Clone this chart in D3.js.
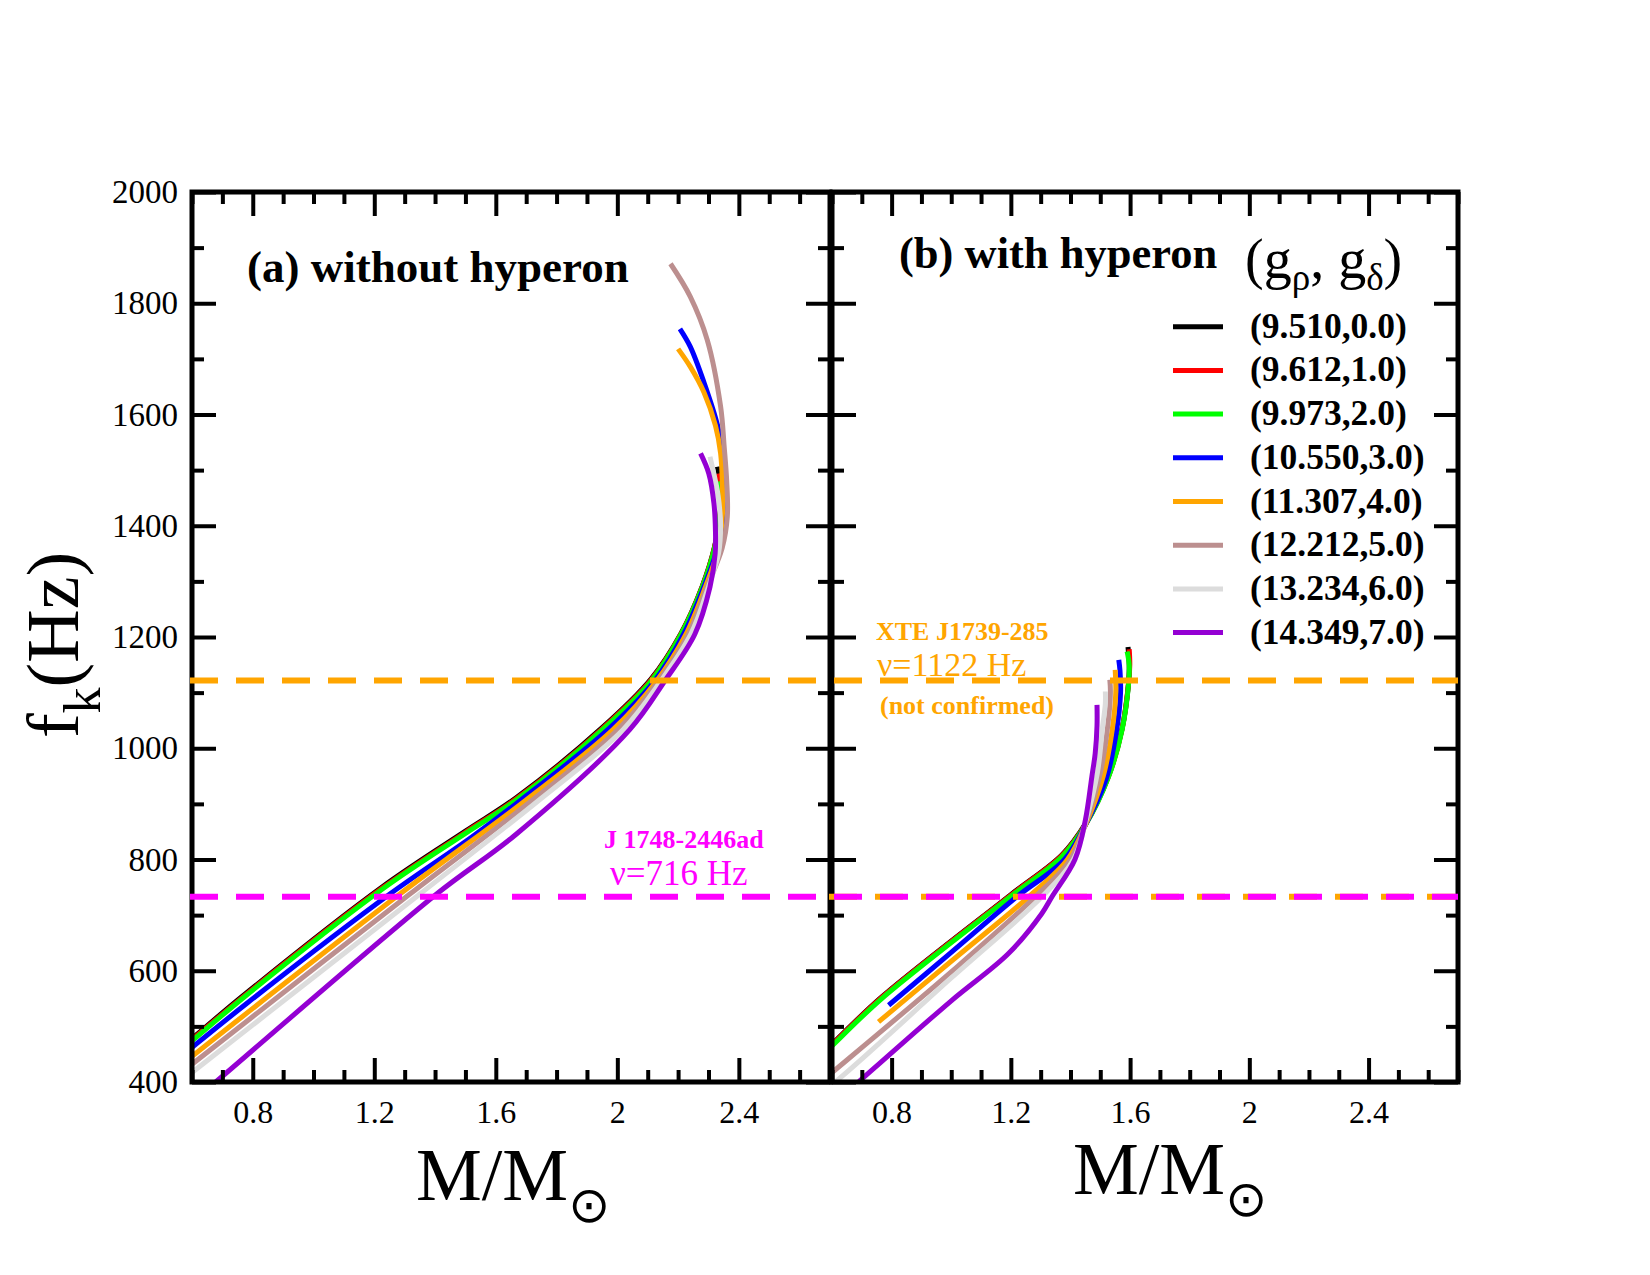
<!DOCTYPE html>
<html>
<head>
<meta charset="utf-8">
<title>Kepler frequency vs mass</title>
<script src="https://cdn.jsdelivr.net/npm/d3@7"></script>
<style>
  body { margin: 0; background: #fff; }
  svg text { font-family: "Liberation Serif", "Times New Roman", serif; }
</style>
</head>
<body>
<svg id="chart" width="1650" height="1275"></svg>
<script>
// ---- values ----
var setLabels = ['(9.510,0.0)', '(9.612,1.0)', '(9.973,2.0)', '(10.550,3.0)',
                 '(11.307,4.0)', '(12.212,5.0)', '(13.234,6.0)', '(14.349,7.0)'];
var setColors = ['#000000', '#ff0000', '#00ff00', '#0000ff', '#ffa500', '#bc8f8f', '#dcdcdc', '#9400d3'];

var massTicks = [0.8, 1.2, 1.6, 2, 2.4];
var freqTicks = [400, 600, 800, 1000, 1200, 1400, 1600, 1800, 2000];

// (a) without hyperon : M/Msun and f_k (Hz) for each set
var massA = [
  [0.58, 0.60, 0.77, 1.227, 1.50, 1.667, 1.95, 2.11, 2.21, 2.28, 2.32, 2.338, 2.342, 2.338, 2.329],
  [0.58, 0.60, 0.77, 1.227, 1.50, 1.667, 1.95, 2.11, 2.21, 2.28, 2.32, 2.338, 2.342, 2.338, 2.333],
  [0.58, 0.60, 0.77, 1.227, 1.50, 1.667, 1.95, 2.11, 2.21, 2.28, 2.32, 2.338, 2.342, 2.336],
  [0.58, 0.60, 0.782, 1.249, 1.52, 1.683, 1.968, 2.121, 2.218, 2.285, 2.33, 2.35, 2.352, 2.345, 2.33, 2.285, 2.24, 2.206],
  [0.58, 0.60, 1.282, 1.70, 1.985, 2.128, 2.226, 2.29, 2.333, 2.346, 2.346, 2.34, 2.323, 2.285, 2.24, 2.20],
  [0.58, 0.60, 1.315, 1.721, 2.001, 2.135, 2.234, 2.295, 2.345, 2.362, 2.36, 2.352, 2.34, 2.296, 2.24, 2.175],
  [0.58, 0.60, 1.348, 1.743, 2.018, 2.142, 2.242, 2.30, 2.333, 2.34, 2.335, 2.329, 2.305],
  [0.66, 0.678, 1.403, 1.666, 2.04, 2.155, 2.255, 2.305, 2.322, 2.323, 2.318, 2.301, 2.274]
];
var freqA = [
  [469, 478, 556, 751, 851, 911, 1037, 1124, 1207, 1292, 1362, 1422, 1452, 1480, 1506],
  [467, 476, 554, 749, 849, 909, 1035, 1122, 1206, 1291, 1361, 1421, 1451, 1480, 1494],
  [465, 474, 552, 747, 847, 907, 1033, 1120, 1205, 1290, 1360, 1420, 1450, 1480],
  [453, 462, 542, 737, 840, 907, 1033, 1120, 1205, 1290, 1360, 1420, 1470, 1530, 1580, 1658, 1722, 1754],
  [437, 446, 737, 907, 1033, 1120, 1205, 1290, 1360, 1420, 1470, 1530, 1580, 1640, 1686, 1718],
  [423, 432, 737, 907, 1033, 1120, 1205, 1290, 1360, 1416, 1480, 1540, 1614, 1734, 1812, 1871],
  [408, 417, 737, 907, 1033, 1120, 1205, 1290, 1350, 1400, 1440, 1464, 1524],
  [392, 400, 737, 845, 1033, 1120, 1205, 1290, 1350, 1390, 1440, 1494, 1530]
];

// (b) with hyperon
var massB = [
  [0.58, 0.60, 0.767, 1.198, 1.371, 1.45, 1.528, 1.573, 1.595, 1.597, 1.593],
  [0.58, 0.60, 0.767, 1.198, 1.371, 1.45, 1.528, 1.573, 1.595, 1.599, 1.597],
  [0.58, 0.60, 0.767, 1.198, 1.371, 1.45, 1.528, 1.573, 1.595, 1.597, 1.590],
  [0.79, 1.0, 1.22, 1.38, 1.45, 1.52, 1.555, 1.568, 1.566, 1.562],
  [0.756, 1.0, 1.26, 1.39, 1.45, 1.51, 1.54, 1.552, 1.55],
  [0.58, 0.60, 1.0, 1.282, 1.40, 1.45, 1.50, 1.525, 1.534, 1.532],
  [0.58, 0.61, 1.0, 1.304, 1.41, 1.45, 1.49, 1.508, 1.517, 1.517],
  [0.67, 0.689, 1.0, 1.192, 1.304, 1.338, 1.415, 1.45, 1.472, 1.483, 1.489, 1.489]
];
var freqB = [
  [458, 468, 553, 736, 808, 864, 951, 1035, 1118, 1150, 1182],
  [457, 467, 552, 735, 807, 863, 950, 1034, 1118, 1150, 1178],
  [455, 465, 550, 733, 805, 862, 949, 1033, 1117, 1150, 1174],
  [538, 633, 733, 800, 862, 945, 1033, 1100, 1140, 1159],
  [508, 617, 733, 800, 862, 950, 1033, 1100, 1141],
  [408, 417, 598, 733, 800, 864, 955, 1040, 1100, 1123],
  [390, 400, 587, 733, 800, 866, 955, 1040, 1080, 1102],
  [391, 400, 546, 631, 703, 733, 800, 871, 950, 991, 1040, 1078]
];

// observed pulsar frequencies (dashed lines, as drawn)
var pulsarFreq = [1122, 733];
var pulsarColor = ['#ffa500', '#ff00ff'];

var svg = d3.select('#chart');

var massDomain = [0.6, 2.7];
var y = d3.scaleLinear().domain([400, 2000]).range([1082, 192]);

var panels = [
  { x0: 192, x1: 830, mass: massA, freq: freqA, yLabels: true },
  { x0: 832, x1: 1458, mass: massB, freq: freqB, yLabels: false }
];

var minorMass = d3.range(6, 28).map(function (d) { return d / 10; })
  .filter(function (d) { return massTicks.indexOf(d) < 0; });
var minorFreq = d3.range(500, 2000, 200);

function styleAxis(g, w) {
  g.select('.domain').remove();
  g.selectAll('.tick line').attr('stroke', '#000').attr('stroke-width', w);
}

panels.forEach(function (p, i) {
  var x = d3.scaleLinear().domain(massDomain).range([p.x0, p.x1]);
  var g = svg.append('g');

  // curves, clipped to the frame
  svg.append('clipPath').attr('id', 'clip' + i)
    .append('rect').attr('x', p.x0).attr('y', 192)
    .attr('width', p.x1 - p.x0).attr('height', 890);

  var line = d3.line()
    .x(function (d) { return x(d[0]); })
    .y(function (d) { return y(d[1]); })
    .curve(d3.curveCatmullRom.alpha(0.5));

  var curves = g.append('g').attr('clip-path', 'url(#clip' + i + ')');
  p.mass.forEach(function (ms, k) {
    var pts = ms.map(function (m, j) { return [m, p.freq[k][j]]; });
    curves.append('path')
      .attr('d', line(pts))
      .attr('fill', 'none')
      .attr('stroke', setColors[k])
      .attr('stroke-width', 5)
      .attr('stroke-linejoin', 'round');
  });

  // ticks on all four sides, pointing inward
  var h = 1082, t = 192;
  var bottom = g.append('g').attr('transform', 'translate(0,' + h + ')')
    .call(d3.axisBottom(x).tickValues(massTicks).tickSizeInner(-24).tickSizeOuter(0)
      .tickPadding(18).tickFormat(d3.format('')));
  styleAxis(bottom, 4);
  bottom.selectAll('text').attr('font-size', 32).attr('fill', '#000');
  styleAxis(g.append('g').attr('transform', 'translate(0,' + h + ')')
    .call(d3.axisBottom(x).tickValues(minorMass).tickSize(-12).tickFormat('')), 4);
  styleAxis(g.append('g').attr('transform', 'translate(0,' + t + ')')
    .call(d3.axisTop(x).tickValues(massTicks).tickSize(-24).tickFormat('')), 4);
  styleAxis(g.append('g').attr('transform', 'translate(0,' + t + ')')
    .call(d3.axisTop(x).tickValues(minorMass).tickSize(-12).tickFormat('')), 4);

  var left = g.append('g').attr('transform', 'translate(' + p.x0 + ',0)')
    .call(d3.axisLeft(y).tickValues(freqTicks).tickSizeInner(-24).tickSizeOuter(0)
      .tickPadding(14).tickFormat(p.yLabels ? d3.format('') : ''));
  styleAxis(left, 4);
  left.selectAll('text').attr('font-size', 33).attr('fill', '#000');
  styleAxis(g.append('g').attr('transform', 'translate(' + p.x0 + ',0)')
    .call(d3.axisLeft(y).tickValues(minorFreq).tickSize(-12).tickFormat('')), 4);
  styleAxis(g.append('g').attr('transform', 'translate(' + p.x1 + ',0)')
    .call(d3.axisRight(y).tickValues(freqTicks).tickSize(-24).tickFormat('')), 4);
  styleAxis(g.append('g').attr('transform', 'translate(' + p.x1 + ',0)')
    .call(d3.axisRight(y).tickValues(minorFreq).tickSize(-12).tickFormat('')), 4);

  g.append('rect').attr('x', p.x0).attr('y', t)
    .attr('width', p.x1 - p.x0).attr('height', h - t)
    .attr('fill', 'none').attr('stroke', '#000').attr('stroke-width', 5);
});

// dashed pulsar lines, drawn over the curves
var yMag = y(pulsarFreq[1]);
svg.append('line').attr('x1', 826).attr('x2', 1458).attr('y1', yMag).attr('y2', yMag)
  .attr('stroke', pulsarColor[0]).attr('stroke-width', 6)
  .attr('stroke-dasharray', '28 18').attr('stroke-dashoffset', 43);
pulsarFreq.forEach(function (f, i) {
  svg.append('line').attr('x1', 190).attr('x2', 1458).attr('y1', y(f)).attr('y2', y(f))
    .attr('stroke', pulsarColor[i]).attr('stroke-width', 6)
    .attr('stroke-dasharray', '28 18');
});

function label(x, yy, str, size, weight, color) {
  return svg.append('text').attr('x', x).attr('y', yy)
    .attr('font-size', size).attr('font-weight', weight || 'normal')
    .attr('fill', color || '#000').text(str);
}

label(604, 848, 'J 1748-2446ad', 26, 'bold', pulsarColor[1]);
label(610, 885, '\u03bd=716 Hz', 35, 'normal', pulsarColor[1]);
label(876, 640, 'XTE J1739-285', 26, 'bold', pulsarColor[0]);
label(877, 676, '\u03bd=1122 Hz', 34, 'normal', pulsarColor[0]);
label(880, 714, '(not confirmed)', 26, 'bold', pulsarColor[0]);

// panel titles
label(247, 282, '(a) without hyperon', 45, 'bold');
label(899, 268, '(b) with hyperon', 44.5, 'bold');
var gg = label(1245, 278, '(g', 56, 'normal');
gg.append('tspan').attr('font-size', 37).attr('dy', 12).text('\u03c1');
gg.append('tspan').attr('dy', -12).text(', g');
gg.append('tspan').attr('font-size', 37).attr('dy', 12).text('\u03b4');
gg.append('tspan').attr('dy', -12).text(')');

// legend
var legend = svg.append('g');
setLabels.forEach(function (s, k) {
  var ly = 326.7 + k * 43.7;
  legend.append('line').attr('x1', 1173).attr('x2', 1223).attr('y1', ly).attr('y2', ly)
    .attr('stroke', setColors[k]).attr('stroke-width', 5);
  legend.append('text').attr('x', 1250).attr('y', ly + 11)
    .attr('font-size', 35.5).attr('font-weight', 'bold').text(s);
});

// axis titles
var yt = svg.append('text').attr('transform', 'translate(78,645) rotate(-90)')
  .attr('text-anchor', 'middle').attr('font-size', 74).text('f');
yt.append('tspan').attr('font-size', 52).attr('dy', 22).text('k');
yt.append('tspan').attr('dy', -22).text('(Hz)');

[[416, 1200], [1073, 1194]].forEach(function (pos) {
  var t = label(pos[0], pos[1], 'M/M', 74, 'normal');
  t.append('tspan').attr('font-family', 'DejaVu Sans').attr('font-size', 50)
    .attr('dy', 22).text('\u2299');
});
</script>
</body>
</html>
